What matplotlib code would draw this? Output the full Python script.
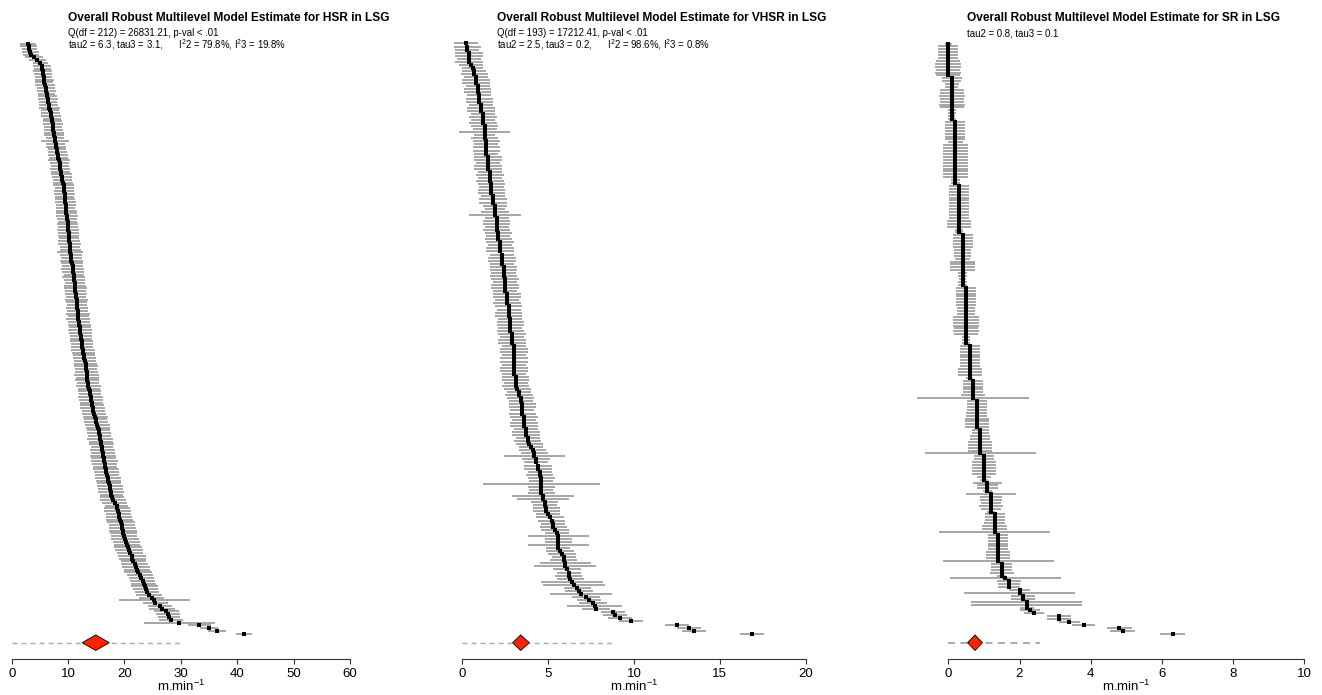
import matplotlib
matplotlib.use('Agg')
import matplotlib.pyplot as plt
import numpy as np

plt.rcParams['font.family'] = ['Liberation Sans', 'DejaVu Sans']
plt.rcParams['mathtext.fontset'] = 'custom'
plt.rcParams['mathtext.rm'] = 'Liberation Sans'
plt.rcParams['mathtext.it'] = 'Liberation Sans:italic'
plt.rcParams['mathtext.bf'] = 'Liberation Sans:bold'
plt.rcParams['lines.scale_dashes'] = False

# ---- HSR: study estimates (sorted, top to bottom) and CI half widths ----
hsr_est = [2.9, 3.0, 3.1, 3.3, 3.4, 4.0, 4.5, 5.1, 5.3, 5.4, 5.5,
           5.6, 5.7, 5.8, 5.8, 5.9, 6.0, 6.1, 6.2, 6.3, 6.4, 6.5, 6.6,
           6.7, 6.8, 6.9, 7.0, 7.1, 7.2, 7.3, 7.3, 7.4, 7.5, 7.5, 7.6,
           7.7, 7.8, 7.9, 8.0, 8.1, 8.2, 8.3, 8.4, 8.5, 8.5, 8.6, 8.7,
           8.8, 8.9, 9.0, 9.1, 9.2, 9.3, 9.3, 9.4, 9.4, 9.5, 9.5, 9.6,
           9.6, 9.7, 9.7, 9.8, 9.8, 9.9, 9.9, 10.0, 10.0, 10.1, 10.1, 10.2,
           10.2, 10.3, 10.3, 10.4, 10.4, 10.5, 10.6, 10.6, 10.7, 10.8, 10.8, 10.9,
           11.0, 11.0, 11.1, 11.2, 11.2, 11.3, 11.3, 11.4, 11.4, 11.5, 11.5, 11.6,
           11.6, 11.7, 11.7, 11.8, 11.8, 11.9, 12.0, 12.1, 12.1, 12.2, 12.3, 12.3,
           12.4, 12.5, 12.5, 12.6, 12.7, 12.8, 12.9, 13.0, 13.1, 13.2, 13.2, 13.3,
           13.3, 13.4, 13.4, 13.5, 13.6, 13.7, 13.8, 13.9, 14.0, 14.1, 14.2, 14.3,
           14.4, 14.5, 14.6, 14.8, 14.9, 15.0, 15.2, 15.3, 15.4, 15.5, 15.6, 15.7,
           15.8, 15.9, 16.0, 16.1, 16.2, 16.2, 16.3, 16.4, 16.5, 16.6, 16.7, 16.8,
           16.9, 17.0, 17.1, 17.2, 17.4, 17.5, 17.6, 17.7, 17.8, 18.0, 18.3, 18.6,
           18.7, 18.8, 19.0, 19.1, 19.2, 19.4, 19.5, 19.6, 19.7, 19.8, 20.0, 20.1,
           20.3, 20.5, 20.6, 20.8, 21.0, 21.3, 21.4, 21.6, 21.8, 22.0, 22.2, 22.4,
           22.7, 23.0, 23.2, 23.4, 23.6, 23.8, 24.0, 24.3, 24.8, 25.3, 25.5, 26.3,
           26.6, 27.4, 27.7, 27.9, 28.2, 29.7, 33.3, 35.0, 36.4, 41.2]
hsr_hw = [1.4, 1.5, 1.3, 1.5, 1.4, 1.6, 1.5, 1.4, 1.6, 1.5,
          1.7, 1.6, 1.5, 1.7, 1.6, 1.8, 1.6, 1.7, 1.5, 1.7,
          1.8, 1.6, 1.7, 1.9, 1.6, 1.7, 1.8, 1.6, 1.7, 1.8,
          1.6, 1.7, 1.8, 1.7, 1.6, 2.5, 1.7, 1.8, 1.6, 1.7,
          1.8, 1.7, 1.9, 1.7, 1.6, 1.8, 1.7, 1.9, 1.8, 1.7,
          1.8, 1.9, 1.7, 1.8, 1.9, 1.7, 1.8, 1.9, 1.8, 1.7,
          1.9, 1.8, 2.0, 1.8, 1.7, 1.9, 1.8, 2.0, 1.9, 1.8,
          1.8, 1.9, 2.0, 1.8, 1.9, 2.3, 1.9, 1.8, 2.0, 1.9,
          1.8, 2.0, 1.9, 1.8, 2.0, 1.9, 1.8, 1.9, 2.0, 1.8,
          1.9, 1.8, 2.0, 1.9, 1.8, 2.0, 1.9, 2.1, 1.9, 2.1,
          1.9, 2.0, 1.9, 2.1, 2.0, 1.9, 2.0, 2.1, 1.9, 2.0,
          2.1, 2.0, 1.9, 2.1, 2.0, 2.0, 2.1, 1.9, 2.0, 2.2,
          2.0, 2.1, 2.0, 2.2, 2.0, 2.1, 2.0, 2.2, 2.1, 2.0,
          2.1, 2.2, 2.0, 2.1, 2.2, 2.0, 2.1, 2.2, 2.1, 2.0,
          2.2, 2.1, 2.3, 2.1, 2.2, 2.0, 2.2, 2.1, 2.3, 2.2,
          2.4, 2.2, 2.1, 2.3, 2.2, 2.1, 2.3, 2.2, 2.1, 2.3,
          2.2, 2.3, 2.1, 2.2, 2.3, 2.2, 2.0, 2.3, 2.4, 2.2,
          2.3, 2.4, 2.5, 2.3, 2.4, 2.5, 2.4, 2.3, 2.5, 2.4,
          2.3, 2.5, 2.4, 2.3, 2.5, 2.4, 2.3, 2.4, 2.5, 2.3,
          2.4, 2.3, 2.2, 2.3, 2.2, 2.4, 2.2, 2.1, 2.3, 2.2,
          6.3, 2.2, 2.1, 2.3, 2.2, 2.1, 2.0, 2.1, 6.3, 2.0,
          1.6, 1.6, 1.5]
hsr_pooled = [14.9, 12.5, 17.3]   # estimate, lower, upper
hsr_pi = [0.0, 30.1]

# ---- VHSR ----
vhsr_est = [0.2, 0.3, 0.3, 0.4, 0.4, 0.4, 0.4, 0.5, 0.6, 0.7,
            0.7, 0.8, 0.8, 0.8, 0.9, 0.9, 0.9, 1.0, 1.0, 1.0,
            1.1, 1.1, 1.1, 1.2, 1.2, 1.2, 1.2, 1.3, 1.3, 1.3,
            1.3, 1.3, 1.4, 1.4, 1.4, 1.4, 1.4, 1.5, 1.5, 1.5,
            1.5, 1.5, 1.6, 1.6, 1.6, 1.6, 1.7, 1.7, 1.7, 1.7,
            1.8, 1.8, 1.8, 1.9, 1.9, 1.9, 1.9, 2.0, 2.0, 2.0,
            2.0, 2.0, 2.1, 2.1, 2.1, 2.2, 2.2, 2.2, 2.2, 2.3,
            2.3, 2.3, 2.3, 2.4, 2.4, 2.4, 2.4, 2.5, 2.5, 2.5,
            2.5, 2.5, 2.6, 2.6, 2.6, 2.6, 2.7, 2.7, 2.7, 2.7,
            2.8, 2.8, 2.8, 2.8, 2.8, 2.9, 2.9, 2.9, 2.9, 3.0,
            3.0, 3.0, 3.0, 3.0, 3.0, 3.0, 3.0, 3.0, 3.0, 3.1,
            3.1, 3.1, 3.1, 3.2, 3.3, 3.3, 3.4, 3.4, 3.5, 3.5,
            3.5, 3.5, 3.6, 3.6, 3.6, 3.6, 3.7, 3.7, 3.7, 3.8,
            3.8, 3.9, 4.0, 4.1, 4.2, 4.2, 4.3, 4.3, 4.4, 4.4,
            4.5, 4.5, 4.6, 4.6, 4.6, 4.6, 4.6, 4.6, 4.7, 4.7,
            4.8, 4.8, 4.9, 4.9, 5.0, 5.1, 5.2, 5.3, 5.3, 5.4,
            5.5, 5.6, 5.6, 5.6, 5.6, 5.6, 5.7, 5.8, 5.9, 5.9,
            6.0, 6.0, 6.1, 6.2, 6.2, 6.3, 6.4, 6.5, 6.7, 6.8,
            6.9, 7.2, 7.4, 7.6, 7.7, 7.8, 8.8, 8.9, 9.2, 9.8,
            12.5, 13.2, 13.5, 16.9]
vhsr_hw = [0.7, 0.8, 0.7, 0.8, 0.8, 0.7, 0.8, 0.7, 0.6, 0.7,
           0.8, 0.7, 0.8, 0.8, 0.7, 0.8, 0.8, 0.7, 0.8, 0.8,
           0.7, 0.8, 0.8, 0.7, 0.8, 0.7, 0.8, 0.8, 0.7, 1.5,
           0.6, 0.8, 0.8, 0.7, 0.8, 0.8, 0.7, 0.8, 0.8, 0.7,
           0.8, 0.8, 0.7, 0.8, 0.7, 0.8, 0.8, 0.7, 0.8, 0.8,
           0.7, 0.8, 0.8, 0.7, 0.6, 0.8, 1.5, 0.7, 0.8, 0.8,
           0.7, 0.8, 0.8, 0.7, 0.8, 0.8, 0.7, 0.8, 0.8, 0.7,
           0.8, 0.8, 0.7, 0.8, 0.8, 0.7, 0.8, 0.8, 0.7, 0.8,
           0.8, 0.7, 0.8, 0.8, 0.7, 0.8, 0.8, 0.7, 0.8, 0.8,
           0.7, 0.8, 0.8, 0.7, 0.8, 0.8, 0.7, 0.8, 0.8, 0.7,
           0.8, 0.8, 0.7, 0.8, 0.8, 0.7, 0.8, 0.8, 0.7, 0.8,
           0.8, 0.7, 0.8, 0.8, 0.7, 0.8, 0.8, 0.7, 0.8, 0.8,
           0.7, 0.8, 0.8, 0.7, 0.8, 0.8, 0.7, 0.8, 0.8, 0.7,
           0.8, 0.8, 0.7, 0.8, 0.8, 1.8, 0.8, 0.7, 0.8, 0.8,
           0.7, 0.8, 0.8, 0.7, 3.4, 0.8, 0.7, 0.8, 1.8, 1.5,
           0.8, 0.7, 0.8, 0.8, 0.7, 0.8, 0.8, 0.7, 0.8, 0.8,
           0.7, 1.8, 0.8, 0.8, 1.8, 0.7, 0.8, 0.8, 0.7, 0.8,
           1.5, 1.8, 0.8, 0.7, 0.8, 0.8, 1.8, 1.8, 0.8, 0.8,
           1.8, 0.8, 0.7, 0.8, 1.6, 0.8, 0.7, 0.7, 0.7, 0.7,
           0.7, 0.7, 0.7, 0.7]
vhsr_pooled = [3.4, 2.93, 3.9]
vhsr_pi = [0.0, 8.76]

# ---- SR: estimates come in runs of equal values ----
sr_levels = [0.0, 0.1, 0.2, 0.3, 0.4, 0.5, 0.6, 0.7, 0.8, 0.9, 1.0, 1.1, 1.2,
             1.3, 1.4, 1.5, 1.6, 1.7, 2.0, 2.1, 2.2, 2.3, 2.4, 3.1, 3.4, 3.8,
             4.8, 4.9, 6.3]
sr_counts = [12, 15, 22, 17, 18, 20, 12, 7, 10, 9, 9, 4, 7,
             7, 10, 5, 1, 3, 2, 2, 3, 1, 1, 2, 1, 1,
             1, 1, 1]
sr_hw = [0.10, 0.28, 0.28, 0.28, 0.28, 0.28, 0.34, 0.36, 0.36, 0.34, 0.36, 0.34,
         0.28, 0.27, 0.2, 0.18, 0.34, 0.34, 0.36, 0.34, 0.34, 0.36, 0.34, 0.12, 0.12, 0.1, 0.12,
         0.28, 0.28, 0.28, 0.28, 0.28, 0.28, 0.28, 0.2, 0.34, 0.36, 0.36, 0.34, 0.36, 0.36,
         0.34, 0.36, 0.34, 0.36, 0.36, 0.34, 0.12, 0.12,
         0.28, 0.28, 0.28, 0.28, 0.28, 0.28, 0.28, 0.28, 0.28, 0.28, 0.28, 0.28,
         0.34, 0.34, 0.34, 0.12, 0.12,
         0.28, 0.28, 0.28, 0.28, 0.28, 0.24, 0.24, 0.24, 0.22, 0.36, 0.36, 0.36, 0.34,
         0.12, 0.12, 0.1, 0.12, 0.12,
         0.28, 0.28, 0.28, 0.28, 0.28, 0.28, 0.28, 0.26, 0.26, 0.26, 0.36, 0.36, 0.36,
         0.36, 0.34, 0.36, 0.34, 0.12, 0.12, 0.12,
         0.28, 0.28, 0.28, 0.28, 0.28, 0.28, 0.28, 0.28, 0.34, 0.34, 0.34, 0.1,
         0.28, 0.28, 0.28, 0.28, 0.28, 0.34, 1.57,
         0.28, 0.28, 0.28, 0.28, 0.3, 0.3, 0.34, 0.34, 0.34, 0.34,
         0.24, 0.24, 0.28, 0.28, 0.34, 0.34, 0.34, 0.34, 1.56,
         0.28, 0.28, 0.34, 0.34, 0.34, 0.34, 0.34, 0.2, 0.12,
         0.42, 0.3, 0.3, 0.12,
         0.69, 0.3, 0.3, 0.28, 0.34, 0.28, 0.12,
         0.28, 0.28, 0.28, 0.3, 0.34, 0.34, 1.56,
         0.28, 0.28, 0.28, 0.28, 0.28, 0.28, 0.34, 0.34, 0.34, 1.56,
         0.3, 0.3, 0.3, 0.34, 0.12,
         1.56,
         0.34, 0.3, 0.3,
         0.3, 1.56,
         0.34, 0.34,
         1.56, 1.56, 0.2,
         0.28, 0.28, 0.34, 0.34, 0.3, 0.33, 0.35, 0.35, 0.35]
sr_pooled = [0.75, 0.54, 0.96]
sr_pi = [0.0, 2.58]
sr_est = np.repeat(sr_levels, sr_counts)

titles = ['Overall Robust Multilevel Model Estimate for HSR in LSG',
          'Overall Robust Multilevel Model Estimate for VHSR in LSG',
          'Overall Robust Multilevel Model Estimate for SR in LSG']
subtitles = [['Q(df = 212) = 26831.21, p-val < .01',
              'tau2 = 6.3, tau3 = 3.1,      I$^2$2 = 79.8%, I$^2$3 = 19.8%'],
             ['Q(df = 193) = 17212.41, p-val < .01',
              'tau2 = 2.5, tau3 = 0.2,      I$^2$2 = 98.6%, I$^2$3 = 0.8%'],
             ['tau2 = 0.8, tau3 = 0.1']]

W, H = 1322, 695
fig = plt.figure(figsize=(W / 100, H / 100), dpi=100)


def fx(px):
    return px / W


def fy(py):
    return 1 - py / H


def forest(x0, x1, xmax, step, est, hw, pooled, pi, title, subs, tx,
           dash=(3.6, 2.9), dash_lw=1.0):
    first_px, last_px, axis_px, top_px, diam_px = 43.5, 633.7, 659.3, 30, 642.7
    est = np.asarray(est, float)
    hw = np.asarray(hw, float)
    k = len(est)
    s = (last_px - first_px) / (k - 1)
    ax = fig.add_axes([fx(x0), fy(axis_px), fx(x1) - fx(x0), (axis_px - top_px) / H])
    y = k - np.arange(k)
    ax.hlines(y, est - hw, est + hw, color='#8e8e8e', lw=1.1, clip_on=False)
    ax.plot(est, y, 's', color='black', ms=2.25, mew=0, snap=False,
            clip_on=False, zorder=3)
    yd = 1 - (diam_px - last_px) / s
    dh = 7.8 / s
    ax.plot(pi, [yd, yd], ls=(0, dash), color='#aaaaaa', lw=dash_lw, clip_on=False)
    ax.fill([pooled[1], pooled[0], pooled[2], pooled[0]],
            [yd, yd + dh, yd, yd - dh],
            facecolor='#ff2200', edgecolor='black', lw=0.6, zorder=5, clip_on=False)
    ax.set_xlim(0, xmax)
    ax.set_ylim(1 - (axis_px - last_px) / s, k + (first_px - top_px) / s)
    ax.set_xticks(np.arange(0, xmax + step / 2, step))
    ax.set_yticks([])
    for side in ['top', 'right', 'left']:
        ax.spines[side].set_visible(False)
    ax.spines['bottom'].set_color('#333333')
    ax.spines['bottom'].set_linewidth(0.8)
    ax.tick_params(axis='x', direction='out', length=3.6, width=0.8,
                   color='#333333', labelsize=9.5, pad=2.5)
    ax.set_xlabel('m.min$^{-1}$', fontsize=9.5, labelpad=-0.5)
    fig.text(fx(tx), fy(20.7), title, fontsize=8.6, fontweight='bold',
             va='baseline', ha='left')
    for i, t in enumerate(subs):
        fig.text(fx(tx), fy(36.0 + 12.3 * i), t, fontsize=6.9,
                 va='baseline', ha='left')
    return ax


forest(11.7, 350.0, 60, 10, hsr_est, hsr_hw, hsr_pooled, hsr_pi,
       titles[0], subtitles[0], 68.3)
forest(462.3, 805.7, 20, 5, vhsr_est, vhsr_hw, vhsr_pooled, vhsr_pi,
       titles[1], subtitles[1], 496.7)
forest(948.3, 1304.3, 10, 2, sr_est, sr_hw, sr_pooled, sr_pi,
       titles[2], subtitles[2], 966.7, dash=(5.0, 4.0), dash_lw=1.4)

fig.savefig('out.png', dpi=100)
